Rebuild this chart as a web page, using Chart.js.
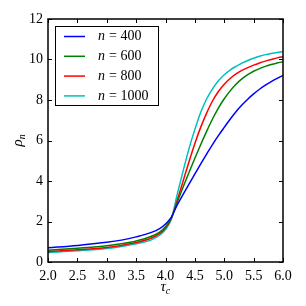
<!DOCTYPE html>
<html>
<head>
<meta charset="utf-8">
<script src="https://cdn.jsdelivr.net/npm/chart.js@4.4.1/dist/chart.umd.min.js"></script>
<style>
html, body { margin: 0; padding: 0; background: #fff; }
#wrap { width: 306px; height: 306px; }
</style>
</head>
<body>
<div id="wrap"><canvas id="rhoChart" width="306" height="306"></canvas></div>
<script>
// values
const tau = [2.0, 2.5, 3.0, 3.25, 3.5, 3.75, 3.9, 4.0, 4.1, 4.2, 4.3, 4.4, 4.5, 4.6,
             4.7, 4.8, 4.9, 5.0, 5.1, 5.2, 5.3, 5.4, 5.5, 5.6, 5.7, 5.8, 5.9, 6.0];
const rho400 = [0.70, 0.82, 0.97, 1.08, 1.24, 1.45, 1.65, 1.88, 2.22, 2.82, 3.34, 3.85, 4.35, 4.85,
                5.33, 5.8, 6.24, 6.65, 7.05, 7.42, 7.75, 8.04, 8.3, 8.53, 8.73, 8.91, 9.07, 9.22];
const rho600 = [0.58, 0.68, 0.80, 0.90, 1.04, 1.26, 1.48, 1.74, 2.18, 2.95, 3.7, 4.42, 5.12, 5.8,
                6.45, 7.06, 7.6, 8.06, 8.45, 8.78, 9.04, 9.25, 9.42, 9.55, 9.66, 9.75, 9.83, 9.89];
const rho800 = [0.51, 0.60, 0.72, 0.82, 0.96, 1.17, 1.40, 1.68, 2.15, 3.05, 4.0, 4.95, 5.85, 6.66,
                7.35, 7.95, 8.42, 8.78, 9.06, 9.29, 9.46, 9.6, 9.72, 9.83, 9.92, 10.0, 10.08, 10.14];
const rho1000 = [0.46, 0.55, 0.67, 0.77, 0.90, 1.08, 1.32, 1.60, 2.12, 3.35, 4.5, 5.6, 6.55, 7.4,
                 8.05, 8.55, 8.95, 9.25, 9.48, 9.66, 9.82, 9.95, 10.06, 10.16, 10.24, 10.3, 10.35, 10.4];
const sizes = ['400', '600', '800', '1000'];
const xTicks = [2.0, 2.5, 3.0, 3.5, 4.0, 4.5, 5.0, 5.5, 6.0];
const yTicks = [0, 2, 4, 6, 8, 10, 12];

const series = [rho400, rho600, rho800, rho1000];
const colors = ['#0000ff', '#008000', '#ff0000', '#00bfbf'];
const serif = "'Liberation Serif', 'DejaVu Serif', serif";

// matplotlib style frame with inward ticks on every side
const frameTicks = {
    id: 'frameTicks',
    afterDatasetsDraw(chart) {
        const { ctx, chartArea: a, scales: { x, y } } = chart;
        ctx.save();
        ctx.strokeStyle = '#000';
        ctx.lineWidth = 1;
        ctx.beginPath();
        xTicks.forEach(v => {
            const px = Math.round(x.getPixelForValue(v)) + 0.5;
            ctx.moveTo(px, a.bottom); ctx.lineTo(px, a.bottom - 4);
            ctx.moveTo(px, a.top); ctx.lineTo(px, a.top + 4);
        });
        yTicks.forEach(v => {
            const py = Math.round(y.getPixelForValue(v)) + 0.5;
            ctx.moveTo(a.left, py); ctx.lineTo(a.left + 4, py);
            ctx.moveTo(a.right, py); ctx.lineTo(a.right - 4, py);
        });
        ctx.stroke();
        ctx.lineWidth = 1.5;
        ctx.strokeRect(a.left, a.top, a.right - a.left, a.bottom - a.top);
        ctx.restore();
    }
};

// legend box in the upper left corner, plus the math axis titles
const mathText = {
    id: 'mathText',
    afterDraw(chart) {
        const { ctx, chartArea: a } = chart;
        ctx.save();
        const bx = a.left + 7, by = a.top + 7, bw = 103, bh = 79;
        ctx.fillStyle = '#fff';
        ctx.fillRect(bx, by, bw, bh);
        ctx.strokeStyle = '#000';
        ctx.lineWidth = 1;
        ctx.strokeRect(bx + 0.5, by + 0.5, bw, bh);
        ctx.textBaseline = 'middle';
        chart.data.datasets.forEach((ds, i) => {
            const ry = by + 10.5 + i * 19.8;
            ctx.strokeStyle = ds.borderColor;
            ctx.lineWidth = 1.5;
            ctx.beginPath();
            ctx.moveTo(bx + 9, ry); ctx.lineTo(bx + 30, ry);
            ctx.stroke();
            ctx.fillStyle = '#000';
            ctx.font = 'italic 14px ' + serif;
            ctx.fillText('n', bx + 43, ry);
            const nw = ctx.measureText('n').width;
            ctx.font = '14px ' + serif;
            ctx.fillText('= ' + sizes[i], bx + 43 + nw + 4, ry);
        });

        // x title: tau_c
        ctx.fillStyle = '#000';
        ctx.textBaseline = 'alphabetic';
        const cx = (a.left + a.right) / 2;
        ctx.font = 'italic 15px ' + serif;
        const tw = ctx.measureText('τ').width;
        ctx.fillText('τ', cx - 5, 291);
        ctx.font = 'italic 10px ' + serif;
        ctx.fillText('c', cx - 5 + tw, 294);

        // y title: rho_n
        ctx.translate(22, (a.top + a.bottom) / 2);
        ctx.rotate(-Math.PI / 2);
        ctx.font = 'italic 15px ' + serif;
        const rw = ctx.measureText('ρ').width;
        ctx.fillText('ρ', -6, 0);
        ctx.font = 'italic 10px ' + serif;
        ctx.fillText('n', -6 + rw, 3);
        ctx.restore();
    }
};

const ctxRho = document.getElementById('rhoChart').getContext('2d');
const rhoChart = new Chart(ctxRho, {
    type: 'line',
    data: {
        datasets: series.map((vals, i) => ({
            label: 'n = ' + sizes[i],
            data: tau.map((t, j) => ({ x: t, y: vals[j] })),
            borderColor: colors[i],
            backgroundColor: colors[i],
            borderWidth: 1.5,
            pointRadius: 0,
            fill: false,
            cubicInterpolationMode: 'monotone'
        }))
    },
    options: {
        responsive: false,
        animation: false,
        devicePixelRatio: 1,
        layout: { padding: { left: 0, right: 23, top: 19, bottom: 0 } },
        plugins: {
            legend: { display: false },
            tooltip: { enabled: false }
        },
        scales: {
            x: {
                type: 'linear',
                min: 2,
                max: 6,
                afterFit: s => { s.height = 44; },
                afterBuildTicks: s => { s.ticks = xTicks.map(v => ({ value: v })); },
                grid: { display: false, drawTicks: false },
                border: { display: false },
                ticks: {
                    padding: 6,
                    maxRotation: 0,
                    autoSkip: false,
                    color: '#000',
                    font: { family: serif, size: 14 },
                    callback: v => v.toFixed(1)
                }
            },
            y: {
                min: 0,
                max: 12,
                afterFit: s => { s.width = 48; },
                afterBuildTicks: s => { s.ticks = yTicks.map(v => ({ value: v })); },
                grid: { display: false, drawTicks: false },
                border: { display: false },
                ticks: {
                    padding: 5,
                    color: '#000',
                    font: { family: serif, size: 14 },
                    callback: v => String(v)
                }
            }
        }
    },
    plugins: [frameTicks, mathText]
});
</script>
</body>
</html>
